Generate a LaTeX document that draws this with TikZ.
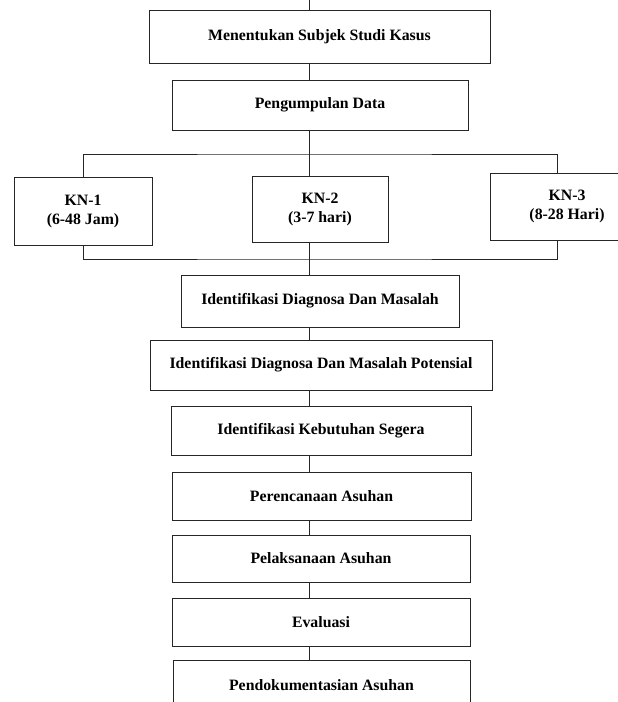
\documentclass[tikz,border=0pt]{standalone}
\usepackage{fontspec}
\setmainfont{Liberation Serif}
\usepackage{tikz}
\usetikzlibrary{positioning}

\begin{document}
\begin{tikzpicture}[x=1pt, y=-1pt,
    box/.style={draw=black!85, line width=1pt, fill=white, align=center, inner sep=2pt,
        font=\fontsize{15.8}{19}\selectfont\bfseries},
    link/.style={draw=black!85, line width=1pt}]
        \useasboundingbox (0,0) rectangle (618,702);
        \clip (0,0) rectangle (618,702);
        % spine and branch columns
        \coordinate (spine) at (309,0);
        \coordinate (c3) at (557,0);
        \coordinate (bartop) at (309,154);
        \coordinate (barbot) at (309,259);
        % boxes
        \node[box, minimum width=341pt, minimum height=53pt] (subjek) at (319.5,36.5) {Menentukan Subjek Studi Kasus};
        \node[box, minimum width=296pt, minimum height=50pt] (data) at (320,105) {Pengumpulan Data};
        \node[box, minimum width=138pt, minimum height=68pt] (kn1) at (83,211) {KN-1\\(6-48 Jam)};
        \node[box, minimum width=136pt, minimum height=66pt] (kn2) at (320,209) {KN-2\\(3-7 hari)};
        \node[box, minimum width=154pt, minimum height=67pt] (kn3) at (567,206.5) {KN-3\\(8-28 Hari)};
        \foreach \name/\cx/\cy/\w/\h/\txt in {
            diag/320/301/278/52/Identifikasi Diagnosa Dan Masalah,
            poten/321/365/342/50/Identifikasi Diagnosa Dan Masalah Potensial,
            segera/321/430.5/300/49/Identifikasi Kebutuhan Segera,
            rencana/321.5/496/299/48/Perencanaan Asuhan,
            laksana/321/558.5/298/47/Pelaksanaan Asuhan,
            eval/321/622/298/48/Evaluasi,
            dokumen/321.5/685/297/50/Pendokumentasian Asuhan}
            \node[box, minimum width=\w pt, minimum height=\h pt] (\name) at (\cx,\cy) {\txt};
        % connectors
        \draw[link] (spine) -- (subjek.north -| spine);
        \draw[link] (subjek.south -| spine) -- (data.north -| spine);
        \draw[link] (data.south -| spine) -- (kn2.north -| spine);
        \draw[link] (kn1.north) |- (bartop) -| (kn3.north -| c3);
        \draw[link] (kn1.south) |- (barbot) -| (kn3.south -| c3);
        \draw[link] (kn2.south -| spine) -- (diag.north -| spine);
        \foreach \a/\b in {diag/poten, poten/segera, segera/rencana, rencana/laksana, laksana/eval, eval/dokumen}
            \draw[link] (\a.south -| spine) -- (\b.north -| spine);
    \end{tikzpicture}
\end{document}
